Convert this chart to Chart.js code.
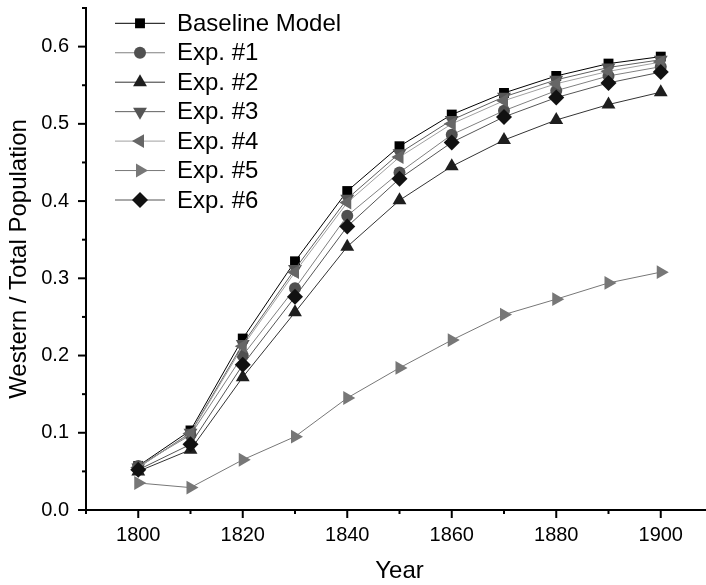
<!DOCTYPE html>
<html>
<head>
<meta charset="utf-8">
<script src="https://cdn.jsdelivr.net/npm/chart.js@4/dist/chart.umd.min.js"></script>
<style>
  html, body { margin: 0; padding: 0; background: #fff; overflow: hidden; }
</style>
</head>
<body>
<!-- wider than the window: the x axis runs off the right edge like the original -->
<canvas id="chart" width="721" height="585"></canvas>
<script>
// data
const years = [1800, 1810, 1820, 1830, 1840, 1850, 1860, 1870, 1880, 1890, 1900];
const baseline = [0.057, 0.103, 0.222, 0.322, 0.413, 0.471, 0.512, 0.540, 0.562, 0.578, 0.587];
const exp1 = [0.057, 0.097, 0.200, 0.287, 0.381, 0.437, 0.486, 0.517, 0.543, 0.562, 0.574];
const exp2 = [0.050, 0.078, 0.172, 0.256, 0.341, 0.401, 0.445, 0.479, 0.505, 0.525, 0.541];
const exp3 = [0.055, 0.100, 0.215, 0.312, 0.403, 0.462, 0.505, 0.535, 0.557, 0.573, 0.583];
const exp4 = [0.055, 0.099, 0.212, 0.308, 0.398, 0.457, 0.500, 0.530, 0.552, 0.568, 0.580];
const exp5 = [0.035, 0.029, 0.065, 0.095, 0.145, 0.184, 0.220, 0.253, 0.273, 0.294, 0.308];
const exp6 = [0.052, 0.085, 0.188, 0.276, 0.367, 0.429, 0.476, 0.509, 0.534, 0.553, 0.567];

const FONT = "'Liberation Sans', Arial, sans-serif";

function series(label, values, marker, line, style, rotation, radius, order) {
    return {
        label: label,
        data: values.map((v, i) => ({ x: years[i], y: v })),
        borderColor: line,
        borderWidth: 1,
        pointStyle: style,
        rotation: rotation,
        pointRadius: radius,
        pointBackgroundColor: marker,
        pointBorderWidth: 0,
        order: order,
        tension: 0
    };
}

// no extra room for half labels at the ends of the axes
function noPad(s) {
    s.paddingTop = 0;
    s.paddingBottom = 0;
    s.paddingLeft = 0;
    s.paddingRight = 0;
}

// tick marks: long at labelled values, short in between
const tickMarks = {
    id: 'tickMarks',
    afterDraw(chart) {
        const { ctx, scales: { x, y } } = chart;
        ctx.save();
        ctx.strokeStyle = '#000';
        ctx.lineWidth = 2;
        x.ticks.forEach(t => {
            const px = x.getPixelForValue(t.value);
            const len = t.value % 20 === 0 ? 8 : 4;
            ctx.beginPath();
            ctx.moveTo(px, x.top);
            ctx.lineTo(px, x.top + len);
            ctx.stroke();
        });
        y.ticks.forEach(t => {
            const py = y.getPixelForValue(t.value);
            const len = Math.round(t.value * 100) % 10 === 0 ? 8 : 4;
            ctx.beginPath();
            ctx.moveTo(y.right, py);
            ctx.lineTo(y.right - len, py);
            ctx.stroke();
        });
        ctx.restore();
    }
};

// legend with the line running through the marker
const lineLegend = {
    id: 'lineLegend',
    afterDraw(chart) {
        const ctx = chart.ctx;
        ctx.save();
        chart.data.datasets.forEach((ds, i) => {
            const cy = 23.3 + i * 29.45;
            ctx.strokeStyle = ds.borderColor;
            ctx.lineWidth = 1;
            ctx.beginPath();
            ctx.moveTo(115, cy);
            ctx.lineTo(165, cy);
            ctx.stroke();
            ctx.fillStyle = ds.pointBackgroundColor;
            Chart.helpers.drawPoint(ctx, {
                pointStyle: ds.pointStyle,
                rotation: ds.rotation,
                radius: ds.pointRadius,
                borderWidth: 0
            }, 140, cy);
            ctx.fillStyle = '#000';
            ctx.font = '24px ' + FONT;
            ctx.textAlign = 'left';
            ctx.textBaseline = 'middle';
            ctx.fillText(ds.label, 177, cy + 1);
        });
        ctx.restore();
    }
};

const ctx = document.getElementById('chart');
new Chart(ctx, {
    type: 'line',
    data: {
        datasets: [
            series('Baseline Model', baseline, '#000000', '#000000', 'rect', 0, 7, 6),
            series('Exp. #1', exp1, '#505050', '#808080', 'circle', 0, 6, 5),
            series('Exp. #2', exp2, '#1e1e1e', '#333333', 'triangle', 0, 8, 4),
            series('Exp. #3', exp3, '#555555', '#606060', 'triangle', 180, 8, 3),
            series('Exp. #4', exp4, '#666666', '#a0a0a0', 'triangle', 270, 8, 2),
            series('Exp. #5', exp5, '#777777', '#777777', 'triangle', 90, 8, 1),
            series('Exp. #6', exp6, '#111111', '#555555', 'rectRot', 0, 8, 0)
        ]
    },
    options: {
        responsive: false,
        animation: false,
        layout: { padding: { top: 5, right: 0, left: 0, bottom: 0 } },
        plugins: {
            legend: { display: false },
            tooltip: { enabled: false }
        },
        scales: {
            x: {
                type: 'linear',
                min: 1790,
                max: 1910,
                afterFit: s => { s.height = 75; noPad(s); },
                grid: { display: false, drawTicks: false },
                border: { display: true, color: '#000', width: 2 },
                ticks: {
                    stepSize: 10,
                    autoSkip: false,
                    maxRotation: 0,
                    padding: 13,
                    color: '#000',
                    font: { family: FONT, size: 20 },
                    callback: v => (v % 20 === 0 ? String(v) : '')
                },
                title: {
                    display: true,
                    text: 'Year',
                    color: '#000',
                    font: { family: FONT, size: 24, lineHeight: 1 },
                    padding: { top: 0, bottom: 2 }
                }
            },
            y: {
                min: 0,
                max: 0.65,
                afterFit: s => { s.width = 86; noPad(s); },
                grid: { display: false, drawTicks: false },
                border: { display: true, color: '#000', width: 2 },
                ticks: {
                    stepSize: 0.05,
                    autoSkip: false,
                    padding: 17,
                    color: '#000',
                    font: { family: FONT, size: 20 },
                    callback: v => (Math.round(v * 100) % 10 === 0 ? v.toFixed(1) : '')
                },
                title: {
                    display: true,
                    text: 'Western / Total Population',
                    color: '#000',
                    font: { family: FONT, size: 24, lineHeight: 1 },
                    padding: { top: 7, bottom: 0 }
                }
            }
        }
    },
    plugins: [tickMarks, lineLegend]
});
</script>
</body>
</html>
